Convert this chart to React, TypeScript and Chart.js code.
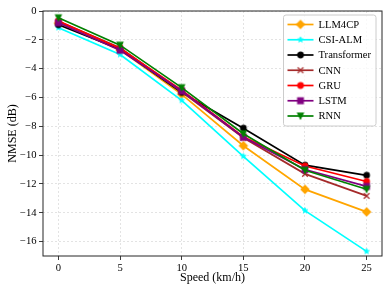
import React, { useEffect, useRef } from 'react';
import { Chart, registerables } from 'chart.js';

Chart.register(...registerables);

const speeds = [0, 5, 10, 15, 20, 25];
const xTicks = [0, 5, 10, 15, 20, 25];
const yTicks = [0, -2, -4, -6, -8, -10, -12, -14, -16];

const seriesNames = ['LLM4CP', 'CSI-ALM', 'Transformer', 'CNN', 'GRU', 'LSTM', 'RNN'];
const llm4cp = [-0.85, -2.7, -5.78, -9.35, -12.38, -13.94];
const csiAlm = [-1.16, -3.02, -6.2, -10.08, -13.85, -16.68];
const transformer = [-0.95, -2.65, -5.65, -8.13, -10.7, -11.4];
const cnn = [-0.72, -2.55, -5.6, -8.8, -11.3, -12.83];
const gru = [-0.7, -2.6, -5.5, -8.72, -10.76, -11.83];
const lstm = [-0.82, -2.72, -5.55, -8.76, -11.0, -12.17];
const rnn = [-0.47, -2.37, -5.32, -8.52, -11.05, -12.37];

const seriesValues = [llm4cp, csiAlm, transformer, cnn, gru, lstm, rnn];
const seriesColors = ['#FFA500', '#00FFFF', '#000000', '#A52A2A', '#FF0000', '#800080', '#008000'];
const seriesMarkers = ['D', '*', 'o', 'x', 'o', 's', 'v'];

const FONT = "'Liberation Serif', 'Times New Roman', serif";
const MS = 5.6; // marker size in px

function makeMarker(kind: string, color: string): HTMLCanvasElement {
  const size = 16;
  const c = document.createElement('canvas');
  c.width = size;
  c.height = size;
  const ctx = c.getContext('2d')!;
  const cx = size / 2;
  const cy = size / 2;
  const h = MS / 2;
  ctx.fillStyle = color;
  ctx.strokeStyle = color;
  ctx.lineWidth = 1.2;
  ctx.lineJoin = 'miter';
  ctx.beginPath();
  if (kind === 'o') {
    ctx.arc(cx, cy, h, 0, Math.PI * 2);
    ctx.fill();
    ctx.stroke();
  } else if (kind === 's') {
    ctx.rect(cx - h, cy - h, MS, MS);
    ctx.fill();
    ctx.stroke();
  } else if (kind === 'D') {
    const d = h * Math.SQRT2;
    ctx.moveTo(cx, cy - d);
    ctx.lineTo(cx + d, cy);
    ctx.lineTo(cx, cy + d);
    ctx.lineTo(cx - d, cy);
    ctx.closePath();
    ctx.fill();
    ctx.stroke();
  } else if (kind === 'v') {
    ctx.moveTo(cx - h, cy - h);
    ctx.lineTo(cx + h, cy - h);
    ctx.lineTo(cx, cy + h);
    ctx.closePath();
    ctx.fill();
    ctx.stroke();
  } else if (kind === 'x') {
    ctx.lineWidth = 1.3;
    ctx.moveTo(cx - h, cy - h);
    ctx.lineTo(cx + h, cy + h);
    ctx.moveTo(cx + h, cy - h);
    ctx.lineTo(cx - h, cy + h);
    ctx.stroke();
  } else if (kind === '*') {
    const outer = h * 1.05;
    const inner = outer * 0.382;
    for (let i = 0; i < 10; i++) {
      const r = i % 2 === 0 ? outer : inner;
      const a = -Math.PI / 2 + (i * Math.PI) / 5;
      const px = cx + r * Math.cos(a);
      const py = cy + r * Math.sin(a);
      if (i === 0) ctx.moveTo(px, py);
      else ctx.lineTo(px, py);
    }
    ctx.closePath();
    ctx.fill();
    ctx.lineWidth = 0.8;
    ctx.stroke();
  }
  return c;
}

const LINE_W = 1.7;

const mplPlugin = {
  id: 'mplDecor',
  afterDraw(chart: any) {
    const ctx: CanvasRenderingContext2D = chart.ctx;
    const ca = chart.chartArea;
    ctx.save();
    // frame
    ctx.setLineDash([]);
    ctx.strokeStyle = '#262626';
    ctx.lineWidth = 1;
    ctx.strokeRect(ca.left, ca.top, ca.right - ca.left, ca.bottom - ca.top);

    // legend
    const w = 92.5;
    const h = 111;
    const bx = ca.right - 6 - w;
    const by = ca.top + 4;
    const r = 2.5;
    ctx.beginPath();
    ctx.moveTo(bx + r, by);
    ctx.lineTo(bx + w - r, by);
    ctx.quadraticCurveTo(bx + w, by, bx + w, by + r);
    ctx.lineTo(bx + w, by + h - r);
    ctx.quadraticCurveTo(bx + w, by + h, bx + w - r, by + h);
    ctx.lineTo(bx + r, by + h);
    ctx.quadraticCurveTo(bx, by + h, bx, by + h - r);
    ctx.lineTo(bx, by + r);
    ctx.quadraticCurveTo(bx, by, bx + r, by);
    ctx.closePath();
    ctx.fillStyle = 'rgba(255,255,255,0.8)';
    ctx.fill();
    ctx.strokeStyle = '#cccccc';
    ctx.lineWidth = 1;
    ctx.stroke();

    ctx.font = `10.6px ${FONT}`;
    ctx.textBaseline = 'middle';
    ctx.textAlign = 'left';
    chart.data.datasets.forEach((ds: any, i: number) => {
      const y = by + 9.5 + i * 15.25;
      const lx0 = bx + 4;
      const lx1 = bx + 30;
      ctx.beginPath();
      ctx.strokeStyle = ds.borderColor;
      ctx.lineWidth = LINE_W;
      ctx.moveTo(lx0, y);
      ctx.lineTo(lx1, y);
      ctx.stroke();
      const img = ds.pointStyle as HTMLCanvasElement;
      ctx.drawImage(img, (lx0 + lx1) / 2 - img.width / 2, y - img.height / 2);
      ctx.fillStyle = '#000';
      ctx.fillText(ds.label, bx + 35, y + 0.5);
    });
    ctx.restore();
  },
};

const fmt = (v: number) => (v < 0 ? '\u2212' + Math.abs(v) : String(v));

export default function App() {
  const ref = useRef<HTMLCanvasElement>(null);
  useEffect(() => {
    const datasets = seriesNames.map((name, i) => ({
      label: name,
      data: speeds.map((s, j) => ({ x: s, y: seriesValues[i][j] })),
      borderColor: seriesColors[i],
      backgroundColor: seriesColors[i],
      borderWidth: LINE_W,
      pointStyle: makeMarker(seriesMarkers[i], seriesColors[i]),
      pointRadius: 4,
      tension: 0,
      order: seriesNames.length - i,
    }));
    const chart = new Chart(ref.current!, {
      type: 'line',
      data: { datasets },
      plugins: [mplPlugin],
      options: {
        animation: false,
        responsive: true,
        maintainAspectRatio: false,
        events: [],
        layout: { padding: { top: 11, right: 7, left: 0, bottom: 0 } },
        plugins: { legend: { display: false }, tooltip: { enabled: false } },
        scales: {
          x: {
            type: 'linear',
            min: -1.25,
            max: 26.25,
            afterBuildTicks: (s: any) => {
              s.ticks = xTicks.map((v) => ({ value: v }));
            },
            afterFit: (s: any) => {
              s.height = 36;
            },
            ticks: {
              color: '#000',
              font: { family: FONT, size: 10.6 },
              padding: 2,
              maxRotation: 0,
              callback: (v: any) => fmt(Number(v)),
            },
            grid: {
              color: '#dcdcdc',
              lineWidth: 0.8,
              tickColor: '#262626',
              tickLength: 4,
              tickWidth: 0.9,
              tickBorderDash: [],
            },
            border: { display: false, dash: [2, 2] },
            title: {
              display: true,
              text: 'Speed (km/h)',
              color: '#000',
              font: { family: FONT, size: 12 },
              padding: { top: 0, bottom: 6.5 },
            },
          },
          y: {
            type: 'linear',
            min: -17,
            max: 0,
            afterBuildTicks: (s: any) => {
              s.ticks = yTicks.map((v) => ({ value: v }));
            },
            afterFit: (s: any) => {
              s.width = 43;
            },
            ticks: {
              color: '#000',
              font: { family: FONT, size: 10.6 },
              padding: 2.5,
              callback: (v: any) => fmt(Number(v)),
            },
            grid: {
              color: '#dcdcdc',
              lineWidth: 0.8,
              tickColor: '#262626',
              tickLength: 4,
              tickWidth: 0.9,
              tickBorderDash: [],
            },
            border: { display: false, dash: [2, 2] },
            title: {
              display: true,
              text: 'NMSE (dB)',
              color: '#000',
              font: { family: FONT, size: 12 },
              padding: { top: 5.5, bottom: 0 },
            },
          },
        },
      } as any,
    });
    return () => chart.destroy();
  }, []);
  return (
    <div style={{ position: 'absolute', left: 0, top: 0, width: 389, height: 292 }}>
      <canvas ref={ref} />
    </div>
  );
}
